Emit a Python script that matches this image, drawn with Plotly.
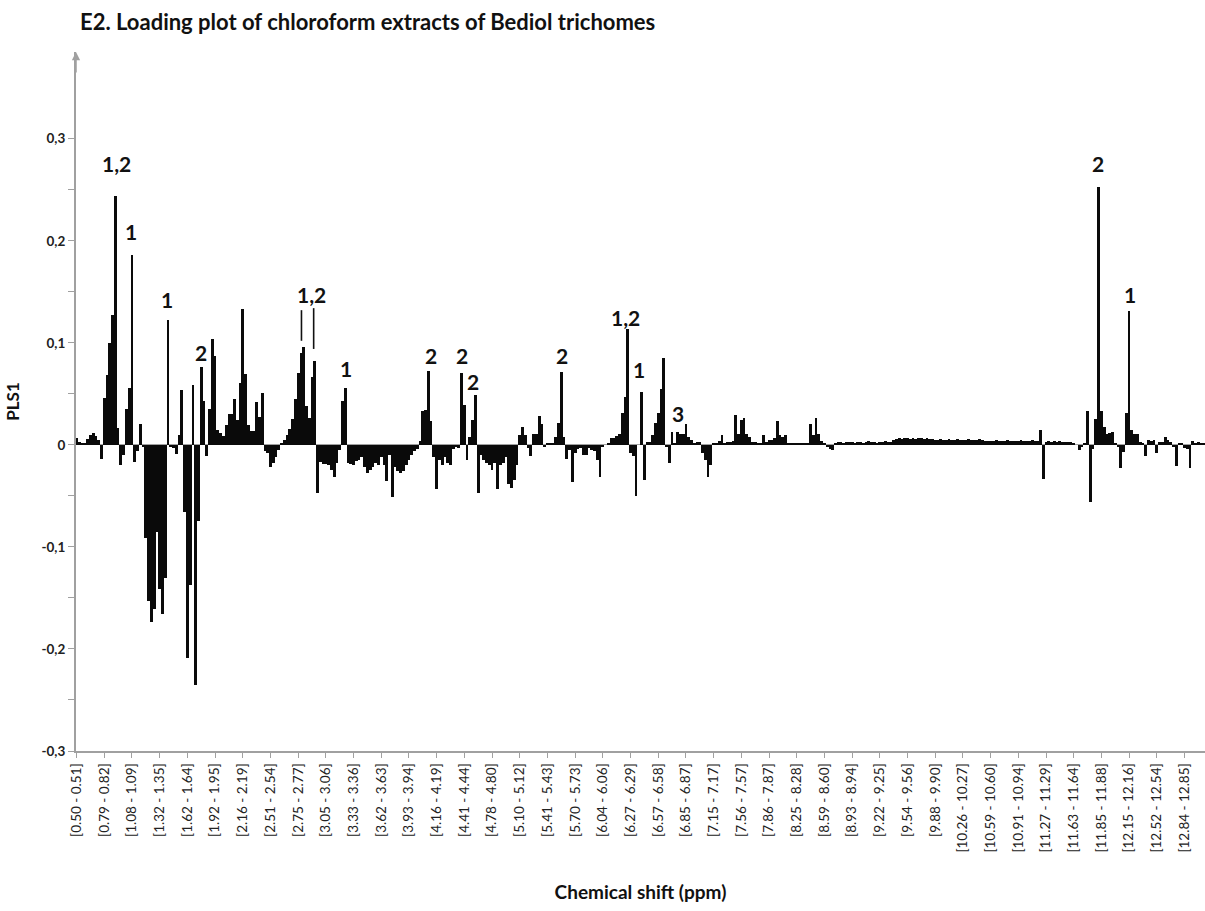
import plotly.graph_objects as go

# Chemical-shift bin labels shown under the axis (one every ten bins)
shift_labels = [
    "[0.50 - 0.51]", "[0.79 - 0.82]", "[1.08 - 1.09]", "[1.32 - 1.35]", "[1.62 - 1.64]",
    "[1.92 - 1.95]", "[2.16 - 2.19]", "[2.51 - 2.54]", "[2.75 - 2.77]", "[3.05 - 3.06]",
    "[3.33 - 3.36]", "[3.62 - 3.63]", "[3.93 - 3.94]", "[4.16 - 4.19]", "[4.41 - 4.44]",
    "[4.78 - 4.80]", "[5.10 - 5.12]", "[5.41 - 5.43]", "[5.70 - 5.73]", "[6.04 - 6.06]",
    "[6.27 - 6.29]", "[6.57 - 6.58]", "[6.85 - 6.87]", "[7.15 - 7.17]", "[7.56 - 7.57]",
    "[7.86 - 7.87]", "[8.25 - 8.28]", "[8.59 - 8.60]", "[8.93 - 8.94]", "[9.22 - 9.25]",
    "[9.54 - 9.56]", "[9.88 - 9.90]", "[10.26 - 10.27]", "[10.59 - 10.60]", "[10.91 - 10.94]",
    "[11.27 - 11.29]", "[11.63 - 11.64]", "[11.85 - 11.88]", "[12.15 - 12.16]", "[12.52 - 12.54]",
    "[12.84 - 12.85]",
]
bins_per_label = 10

# PLS1 loading of every spectral bin (rows = ten bins following each label)
loadings = [
    0.007, 0.003, 0.002, 0.002, 0.006, 0.010, 0.012, 0.009, 0.005, -0.014,
    0.046, 0.068, 0.100, 0.127, 0.244, 0.017, -0.020, -0.010, 0.035, 0.056,
    0.186, -0.017, -0.006, 0.020, -0.002, -0.091, -0.153, -0.174, -0.161, -0.085,
    -0.141, -0.166, -0.130, 0.122, -0.002, -0.003, -0.009, 0.010, 0.054, -0.066,
    -0.209, -0.137, 0.059, -0.235, -0.075, 0.076, 0.043, -0.011, 0.035, 0.104,
    0.087, 0.015, 0.012, 0.009, 0.019, 0.030, 0.030, 0.045, 0.024, 0.061,
    0.133, 0.069, 0.019, 0.014, 0.014, 0.042, 0.027, 0.051, -0.006, -0.008,
    -0.022, -0.018, -0.012, -0.005, 0.002, 0.005, 0.010, 0.016, 0.025, 0.045,
    0.070, 0.090, 0.096, 0.038, 0.026, 0.067, 0.082, -0.047, -0.017, -0.019,
    -0.019, -0.020, -0.025, -0.031, -0.018, -0.005, 0.043, 0.056, -0.018, -0.019,
    -0.020, -0.016, -0.015, -0.012, -0.022, -0.028, -0.025, -0.022, -0.018, -0.020,
    -0.012, -0.020, -0.035, -0.010, -0.051, -0.022, -0.026, -0.028, -0.026, -0.020,
    -0.015, -0.010, -0.006, -0.004, 0.004, 0.033, 0.034, 0.072, 0.023, -0.012,
    -0.043, -0.015, -0.020, -0.012, -0.018, -0.020, -0.004, -0.002, -0.003, 0.070,
    0.039, -0.015, 0.008, 0.024, 0.049, -0.047, -0.010, -0.015, -0.018, -0.020,
    -0.025, -0.018, -0.043, -0.020, -0.018, -0.012, -0.038, -0.042, -0.034, -0.020,
    0.010, 0.018, 0.010, -0.003, -0.011, 0.011, 0.011, 0.028, 0.020, -0.002,
    0.001, 0.002, 0.002, 0.008, 0.021, 0.071, 0.008, -0.014, -0.005, -0.036,
    -0.008, -0.004, -0.003, -0.010, -0.010, -0.003, -0.005, -0.006, -0.015, -0.031,
    -0.002, 0.000, 0.002, 0.007, 0.007, 0.009, 0.011, 0.031, 0.047, 0.114,
    -0.008, -0.011, -0.050, 0.000, 0.052, -0.034, 0.003, 0.003, 0.010, 0.021,
    0.031, 0.055, 0.085, -0.002, -0.018, 0.013, 0.002, 0.013, 0.011, 0.011,
    0.020, 0.008, 0.005, 0.001, 0.003, 0.003, -0.008, -0.015, -0.031, -0.020,
    0.001, 0.002, 0.004, 0.010, 0.002, 0.003, 0.003, 0.004, 0.029, 0.011,
    0.024, 0.026, 0.011, 0.008, 0.003, 0.003, 0.002, 0.001, 0.010, 0.003,
    0.005, 0.005, 0.007, 0.023, 0.010, 0.008, 0.010, 0.002, 0.002, 0.002,
    0.002, 0.002, 0.002, 0.002, 0.001, 0.020, 0.010, 0.026, 0.011, 0.004,
    0.002, -0.002, -0.004, -0.005, 0.002, 0.003, 0.003, 0.002, 0.003, 0.003,
    0.003, 0.002, 0.003, 0.003, 0.002, 0.003, 0.004, 0.003, 0.003, 0.002,
    0.003, 0.003, 0.004, 0.003, 0.003, 0.005, 0.006, 0.007, 0.006, 0.007,
    0.007, 0.006, 0.007, 0.006, 0.007, 0.007, 0.006, 0.007, 0.006, 0.006,
    0.005, 0.005, 0.006, 0.005, 0.005, 0.006, 0.005, 0.005, 0.006, 0.005,
    0.005, 0.005, 0.006, 0.005, 0.005, 0.005, 0.006, 0.005, 0.004, 0.004,
    0.004, 0.004, 0.005, 0.004, 0.004, 0.004, 0.005, 0.004, 0.004, 0.004,
    0.004, 0.005, 0.004, 0.004, 0.004, 0.005, 0.004, 0.004, 0.015, -0.033,
    0.003, 0.004, 0.003, 0.004, 0.003, 0.004, 0.003, 0.003, 0.003, 0.003,
    0.001, 0.000, -0.005, -0.002, 0.002, 0.033, -0.056, -0.004, 0.025, 0.253,
    0.033, 0.018, 0.011, 0.012, 0.013, 0.002, -0.002, -0.023, -0.007, 0.031,
    0.131, 0.015, 0.011, 0.011, 0.003, 0.002, -0.011, 0.005, 0.004, 0.005,
    -0.008, 0.003, 0.003, 0.008, 0.005, 0.003, -0.002, -0.021, 0.002, 0.002,
    -0.003, -0.004, -0.023, 0.004, 0.002, 0.003, 0.002, 0.001,
]

# Compound labels over the discriminating signals: text, bin, loading level
peak_text = ["1,2", "1", "1", "2", "1,2", "1", "2", "2", "2", "2", "1,2", "1", "3", "2", "1"]
peak_bin = [14.4, 19.5, 32.5, 44.8, 84.8, 97.1, 127.8, 139.0, 143.3, 175.1, 198.2, 203.2, 217.3, 368.6, 380.5]
peak_level = [0.276, 0.209, 0.142, 0.091, 0.147, 0.075, 0.088, 0.088, 0.062, 0.088, 0.125, 0.074, 0.031, 0.276, 0.147]

# Leader ticks pointing the shared "1,2" label at its two neighbouring peaks
leader_bin = [81.2, 85.6]
leader_low = [0.102, 0.094]
leader_high = [0.132, 0.134]

y_ticks = [-0.3, -0.2, -0.1, 0.0, 0.1, 0.2, 0.3]
y_tick_text = ["-0,3", "-0,2", "-0,1", "0", "0,1", "0,2", "0,3"]
y_minor = [-0.25, -0.15, -0.05, 0.05, 0.15, 0.25]

AXIS_GREY = "#a0a0a0"
FONT = "Lato"

fig = go.Figure()
fig.add_trace(go.Bar(
    x=list(range(len(loadings))),
    y=loadings,
    marker=dict(color="#0a0a0a", line=dict(width=0)),
    hoverinfo="x+y",
))

annotations = []
for txt, b, lvl in zip(peak_text, peak_bin, peak_level):
    annotations.append(dict(
        x=b, y=lvl, xref="x", yref="y", text="<b>%s</b>" % txt, showarrow=False,
        font=dict(family=FONT, size=21, color="#111"), xanchor="center", yanchor="middle",
    ))
# arrow head on top of the vertical axis
annotations.append(dict(
    x=0, y=1.0, xref="paper", yref="paper", ax=0, ay=22, axref="pixel", ayref="pixel",
    showarrow=True, arrowhead=2, arrowsize=1.1, arrowwidth=1.5, arrowcolor=AXIS_GREY, text="",
))

shapes = [
    dict(type="line", xref="x", yref="y", x0=b, x1=b, y0=lo, y1=hi,
         line=dict(color="#111", width=1.6))
    for b, lo, hi in zip(leader_bin, leader_low, leader_high)
]

fig.update_layout(
    width=1205, height=911,
    margin=dict(l=76, r=0, t=52, b=160),
    paper_bgcolor="white", plot_bgcolor="white",
    bargap=0, showlegend=False,
    font=dict(family=FONT, color="#222"),
    title=dict(
        text="<b>E2. Loading plot of chloroform extracts of Bediol trichomes</b>",
        x=80 / 1205, xanchor="left", xref="container",
        y=1 - 22 / 911, yanchor="middle", yref="container",
        font=dict(family=FONT, size=22, color="#111"),
    ),
    annotations=annotations,
    shapes=shapes,
)

fig.update_xaxes(
    range=[-0.2, 407.4],
    tickmode="array",
    tickvals=[i * bins_per_label for i in range(len(shift_labels))],
    ticktext=shift_labels,
    tickangle=-90,
    tickfont=dict(family=FONT, size=13.5, color="#222"),
    ticks="outside", ticklen=5, tickcolor=AXIS_GREY, tickwidth=1,
    showline=True, linecolor=AXIS_GREY, linewidth=2,
    showgrid=False, zeroline=False, automargin=False,
    title=dict(text="<b>Chemical shift (ppm)</b>", standoff=34,
               font=dict(family=FONT, size=19, color="#111")),
)

fig.update_yaxes(
    range=[-0.3, 0.385],
    tickmode="array", tickvals=y_ticks, ticktext=y_tick_text,
    tickfont=dict(family=FONT, size=13.5, color="#222", weight="bold"),
    ticks="outside", ticklen=6, tickcolor=AXIS_GREY, tickwidth=1,
    minor=dict(tickmode="array", tickvals=y_minor, ticks="outside", ticklen=6,
               tickcolor=AXIS_GREY, tickwidth=1),
    showline=True, linecolor=AXIS_GREY, linewidth=2,
    showgrid=False, zeroline=True, zerolinecolor=AXIS_GREY, zerolinewidth=1,
    automargin=False,
    title=dict(text="<b>PLS1</b>", standoff=17,
               font=dict(family=FONT, size=17, color="#111")),
)

fig.write_html("out.html")
